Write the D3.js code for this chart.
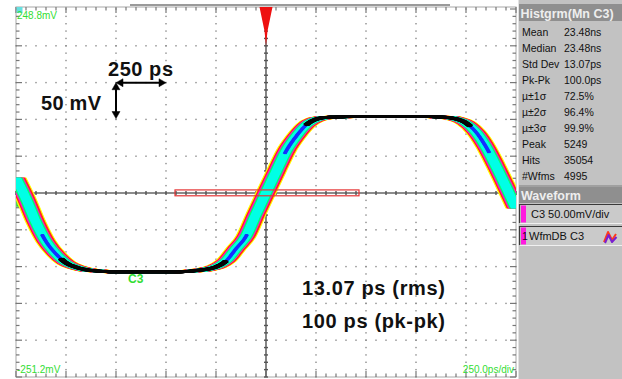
<!DOCTYPE html>
<html><head><meta charset="utf-8">
<script src="https://cdn.jsdelivr.net/npm/d3@7"></script>
<style>body{margin:0;background:#fff}svg{display:block}</style>
</head><body><svg id="c" width="622" height="379"></svg>
<script>
// ---------- data ----------
const timeDomainPs = [-1250, 1250];
const voltDomainMv = [-251.2, 248.8];
const timePerDivPs = 250;
const voltPerDivMv = 50;
const timePs = [-1250,-1200,-1150,-1100,-1050,-1000,-950,-900,-850,-800,-750,-700,-650,-600,-550,-500,-450,-400,-350,-300,-250,-200,-150,-100,-50,0,50,100,150,200,250,300,350,400,450,500,550,600,650,700,750,800,850,900,950,1000,1050,1100,1150,1200,1250];
const waveMv = [19,-9,-41,-67,-84,-96,-102,-105.5,-107,-108,-108.5,-108.5,-108.5,-108.5,-108.5,-108.5,-108.3,-108,-106.5,-105,-101.5,-93.5,-77,-60,-30,-1,27.5,55.5,75.5,91,99,101.5,102,102.5,102.7,102.7,102.7,102.7,102.7,102.7,102.7,102.7,102.3,101.5,99.5,94,81.5,61.5,35.5,7.5,-21.5];
const histBoxPs = [-455, 465];
const histBoxMv = [-5, 3];
const statLabels = ["Mean","Median","Std Dev","Pk-Pk","\u00b5\u00b11\u03c3","\u00b5\u00b12\u03c3","\u00b5\u00b13\u03c3","Peak","Hits","#Wfms"];
const statValues = ["23.48ns","23.48ns","13.07ps","100.0ps","72.5%","96.4%","99.9%","5249","35054","4995"];
const noteLines = ["13.07 ps (rms)", "100 ps (pk-pk)"];

// ---------- setup ----------
const svg = d3.select("#c");
const P = {l:16, r:516, t:9, b:377};
const x = d3.scaleLinear().domain(timeDomainPs).range([P.l, P.r]);
const y = d3.scaleLinear().domain(voltDomainMv).range([P.b, P.t]);
const nDivX = (timeDomainPs[1]-timeDomainPs[0])/timePerDivPs;
const nDivY = Math.round((voltDomainMv[1]-voltDomainMv[0])/voltPerDivMv);
const gridGray = "#8a8a8a";

svg.append("defs").append("clipPath").attr("id","pc")
  .append("rect").attr("x",P.l).attr("y",P.t-2).attr("width",P.r-P.l).attr("height",P.b-P.t+2);

// frame
svg.append("rect").attr("x",P.l).attr("y",P.t-2).attr("width",P.r-P.l).attr("height",P.b-P.t+2)
  .attr("fill","#fff").attr("stroke","#a8a8a8").attr("stroke-width",1);
svg.append("rect").attr("x",x(-680)).attr("y",4).attr("width",x(920)-x(-680)).attr("height",2).attr("fill","#9a9a9a");

const g = svg.append("g");
// dotted grid
for (let i=1;i<nDivX;i++){
  if (i===nDivX/2) continue;
  const xx = x(timeDomainPs[0]+i*timePerDivPs);
  for (let j=0;j<=nDivY*5;j++){
    const yy = y(voltDomainMv[0]+j*voltPerDivMv/5);
    g.append("rect").attr("x",xx-0.7).attr("y",yy-0.7).attr("width",1.4).attr("height",1.4).attr("fill",gridGray);
  }
}
for (let j=1;j<nDivY;j++){
  if (j===nDivY/2) continue;
  const yy = y(voltDomainMv[0]+j*voltPerDivMv);
  for (let i=0;i<=nDivX*5;i++){
    const xx = x(timeDomainPs[0]+i*timePerDivPs/5);
    g.append("rect").attr("x",xx-0.7).attr("y",yy-0.7).attr("width",1.4).attr("height",1.4).attr("fill",gridGray);
  }
}
// border ticks
for (let j=0;j<=nDivY*5;j++){
  const yy = y(voltDomainMv[0]+j*voltPerDivMv/5);
  const L = (j%5===0)?6:3.5;
  g.append("line").attr("x1",P.l).attr("x2",P.l+L).attr("y1",yy).attr("y2",yy).attr("stroke","#777").attr("stroke-width",1.2);
  g.append("line").attr("x1",P.r).attr("x2",P.r-L).attr("y1",yy).attr("y2",yy).attr("stroke","#777").attr("stroke-width",1.2);
}
for (let i=0;i<=nDivX*5;i++){
  const xx = x(timeDomainPs[0]+i*timePerDivPs/5);
  const L = (i%5===0)?6:3.5;
  g.append("line").attr("x1",xx).attr("x2",xx).attr("y1",P.t-2).attr("y2",P.t-2+L).attr("stroke","#777").attr("stroke-width",1.2);
  g.append("line").attr("x1",xx).attr("x2",xx).attr("y1",P.b).attr("y2",P.b-L).attr("stroke","#777").attr("stroke-width",1.2);
}
// center axes
const cx = x(0), cy = y((voltDomainMv[0]+voltDomainMv[1])/2);
g.append("line").attr("x1",P.l).attr("x2",P.r).attr("y1",cy).attr("y2",cy).attr("stroke","#666").attr("stroke-width",1.6);
g.append("line").attr("x1",cx).attr("x2",cx).attr("y1",P.t-2).attr("y2",P.b).attr("stroke","#666").attr("stroke-width",1.6);
for (let i=0;i<=nDivX*5;i++){
  const xx = x(timeDomainPs[0]+i*timePerDivPs/5);
  g.append("line").attr("x1",xx).attr("x2",xx).attr("y1",cy-2).attr("y2",cy+2).attr("stroke","#555").attr("stroke-width",1.4);
}
for (let j=0;j<=nDivY*5;j++){
  const yy = y(voltDomainMv[0]+j*voltPerDivMv/5);
  g.append("line").attr("x1",cx-2).attr("x2",cx+2).attr("y1",yy).attr("y2",yy).attr("stroke","#555").attr("stroke-width",1.4);
}

// channel offset marker (green) and top-left level square
svg.append("path").attr("d",`M${P.l+1},${cy+3} L${P.l+10},${cy+3} L${P.l+14},${cy+8} L${P.l+10},${cy+13} L${P.l+1},${cy+13} Z`)
  .attr("fill","none").attr("stroke","#2ad42a").attr("stroke-width",1.5);
svg.append("rect").attr("x",P.l+0.5).attr("y",P.t-2).attr("width",6).attr("height",6).attr("fill","#66e0e0");

// ---------- waveform (eye) ----------
const data = timePs.map((t,i)=>[t, waveMv[i]]);
const waveLine = d3.line().x(d=>x(d[0])).y(d=>y(d[1])).curve(d3.curveMonotoneX);
const wg = svg.append("g").attr("clip-path","url(#pc)");
const d0 = waveLine(data);
function smear(d, color, hw, w, step){
  for (let s=-hw; s<=hw+0.001; s+=step){
    wg.append("path").attr("d",d).attr("transform",`translate(${s},0)`)
      .attr("fill","none").attr("stroke",color).attr("stroke-width",w).attr("stroke-linejoin","round");
  }
}
const layers = [
  {c:"#ffff00", hw:9.3, w:2.5},
  {c:"#ff2a1a", hw:8.0, w:2.5},
  {c:"#ff10c8", hw:6.7, w:2.5},
  {c:"#00ff70", hw:5.3, w:2.5},
  {c:"#00ffe6", hw:3.8, w:2.5}
];
layers.forEach(L=>smear(d0, L.c, L.hw, L.w, 0.5));

// density-coded centre: blue on medium slopes, black on flat parts
const ref = wg.append("path").attr("d",d0).attr("fill","none").attr("stroke","none");
const node = ref.node(), TL = node.getTotalLength();
const pts=[]; for(let l=0;l<=TL;l+=1){const p=node.getPointAtLength(l);pts.push([p.x,p.y]);}
const slopeAt = i => {
  const a=pts[Math.max(0,i-3)], b=pts[Math.min(pts.length-1,i+3)];
  return Math.abs((b[1]-a[1])/((b[0]-a[0])||1e-6));
};
function segments(test){
  const out=[]; let cur=[];
  pts.forEach((p,i)=>{ if(test(slopeAt(i))) cur.push(p); else { if(cur.length>4) out.push(cur); cur=[]; } });
  if(cur.length>4) out.push(cur);
  return out;
}
const lin = d3.line();
segments(s=>s<1.9).forEach(sg=>smear(lin(sg), "#1530ff", 1.0, 2, 0.4));
segments(s=>s<0.9).forEach(sg=>smear(lin(sg), "#050505", 2.0, 2.8, 0.4));

// histogram region box
svg.append("rect").attr("x",x(histBoxPs[0])).attr("y",y(histBoxMv[1]))
  .attr("width",x(histBoxPs[1])-x(histBoxPs[0])).attr("height",y(histBoxMv[0])-y(histBoxMv[1]))
  .attr("fill","none").attr("stroke","#e53535").attr("stroke-width",1.2);

// trigger marker
svg.append("path").attr("d",`M${cx-6.5},${P.t-2} L${cx+6.5},${P.t-2} L${cx+1.5},${P.t+22} L${cx},${P.t+37} L${cx-1.5},${P.t+22} Z`).attr("fill","#ee1010");

// scope labels
const green="#33dd33";
svg.append("text").attr("x",P.l+1).attr("y",P.t+10).text("248.8mV").attr("font-family","Liberation Sans, Arial").attr("font-size",10).attr("fill",green);
svg.append("text").attr("x",P.l+1).attr("y",P.b-4).text("-251.2mV").attr("font-family","Liberation Sans, Arial").attr("font-size",10).attr("fill",green);
svg.append("text").attr("x",P.r-2).attr("y",P.b-4).attr("text-anchor","end").text("250.0ps/div").attr("font-family","Liberation Sans, Arial").attr("font-size",10).attr("fill",green);
svg.append("text").attr("x",x(-690)).attr("y",y(-123.5)).text("C3").attr("font-family","Liberation Sans, Arial").attr("font-size",12).attr("font-weight","bold").attr("fill",green);

// annotations: scale arrows
const ax0 = x(-750), ay0 = y(150);
const ax1 = x(-750+timePerDivPs), ay1 = y(150-voltPerDivMv);
const ann = svg.append("g").attr("stroke","#000").attr("stroke-width",2).attr("fill","#000");
ann.append("line").attr("x1",ax0+3).attr("x2",ax1-3).attr("y1",ay0+1).attr("y2",ay0+1);
ann.append("path").attr("d",`M${ax0},${ay0+1} l7,-4 l0,8 Z`).attr("stroke-width",0.5);
ann.append("path").attr("d",`M${ax1},${ay0+1} l-7,-4 l0,8 Z`).attr("stroke-width",0.5);
ann.append("line").attr("x1",ax0).attr("x2",ax0).attr("y1",ay0+3).attr("y2",ay1-3);
ann.append("path").attr("d",`M${ax0},${ay0+1} l-4,7 l8,0 Z`).attr("stroke-width",0.5);
ann.append("path").attr("d",`M${ax0},${ay1} l-4,-7 l8,0 Z`).attr("stroke-width",0.5);
const bf = "Liberation Sans, Arial, sans-serif";
svg.append("text").attr("x",ax0-8).attr("y",ay0-6).text(timePerDivPs+" ps").attr("font-family",bf).attr("font-weight","bold").attr("font-size",20).attr("textLength",65).attr("fill","#111");
svg.append("text").attr("x",ax0-75).attr("y",ay0+28).text(voltPerDivMv+" mV").attr("font-family",bf).attr("font-weight","bold").attr("font-size",20).attr("textLength",60).attr("fill","#111");
noteLines.forEach((t,i)=>{
  svg.append("text").attr("x",302).attr("y",294.5+i*33.5).text(t).attr("font-family",bf).attr("font-weight","bold").attr("font-size",20).attr("textLength",143).attr("fill","#111");
});

// ---------- right panel ----------
const pn = svg.append("g");
pn.append("rect").attr("x",518).attr("y",0).attr("width",104).attr("height",379).attr("fill","#c2c2c2");
pn.append("line").attr("x1",518.5).attr("x2",518.5).attr("y1",0).attr("y2",379).attr("stroke","#e2e2e2");
const sf = "Liberation Sans, Arial, sans-serif";
pn.append("rect").attr("x",519).attr("y",4).attr("width",103).attr("height",17).attr("fill","#8f8f8f");
pn.append("text").attr("x",520.5).attr("y",17.5).text("Histgrm(Mn C3)").attr("font-family",sf).attr("font-size",12.5).attr("font-weight","bold").attr("fill","#eeeeee");
statLabels.forEach((s,i)=>{
  pn.append("text").attr("x",522).attr("y",35.5+i*16).text(s).attr("font-family",sf).attr("font-size",10.5).attr("fill","#111");
  pn.append("text").attr("x",564).attr("y",35.5+i*16).text(statValues[i]).attr("font-family",sf).attr("font-size",10.5).attr("fill","#111");
});
pn.append("rect").attr("x",519).attr("y",185).attr("width",103).attr("height",2).attr("fill","#a0a0a0");
pn.append("rect").attr("x",519).attr("y",187).attr("width",103).attr("height",16).attr("fill","#8f8f8f");
pn.append("text").attr("x",521).attr("y",200).text("Waveform").attr("font-family",sf).attr("font-size",12.5).attr("font-weight","bold").attr("fill","#eeeeee");
[[204,"C3 50.00mV/div"],[226,"WfmDB C3"]].forEach(([yy,t],i)=>{
  pn.append("rect").attr("x",519).attr("y",yy).attr("width",103).attr("height",19).attr("fill","#cacaca");
  pn.append("path").attr("d",`M519.5,${yy+19} V${yy+0.5} H622`).attr("fill","none").attr("stroke","#3a3a3a").attr("stroke-width",1.2);
  pn.append("path").attr("d",`M520,${yy+19.5} H622`).attr("fill","none").attr("stroke","#f0f0f0");
  pn.append("rect").attr("x",521).attr("y",yy+1.5).attr("width",5).attr("height",17).attr("fill","#ff1adf");
  if (i===1) pn.append("text").attr("x",522).attr("y",yy+14).text("1").attr("font-family",sf).attr("font-size",10.5).attr("fill","#111");
  pn.append("text").attr("x",i===0?531:529).attr("y",yy+14).text(t).attr("font-family",sf).attr("font-size",11).attr("fill","#111");
});
// small persistence icon
const ic = pn.append("g").attr("fill","none").attr("stroke-width",2).attr("stroke-linejoin","round");
ic.append("path").attr("d","M604,242 L608,232 L612,240 L616,234").attr("stroke","#ff3a1a");
ic.append("path").attr("d","M605,243 L608.5,235 L612,242 L616.5,237").attr("stroke","#7a1fd0");
</script></body></html>
